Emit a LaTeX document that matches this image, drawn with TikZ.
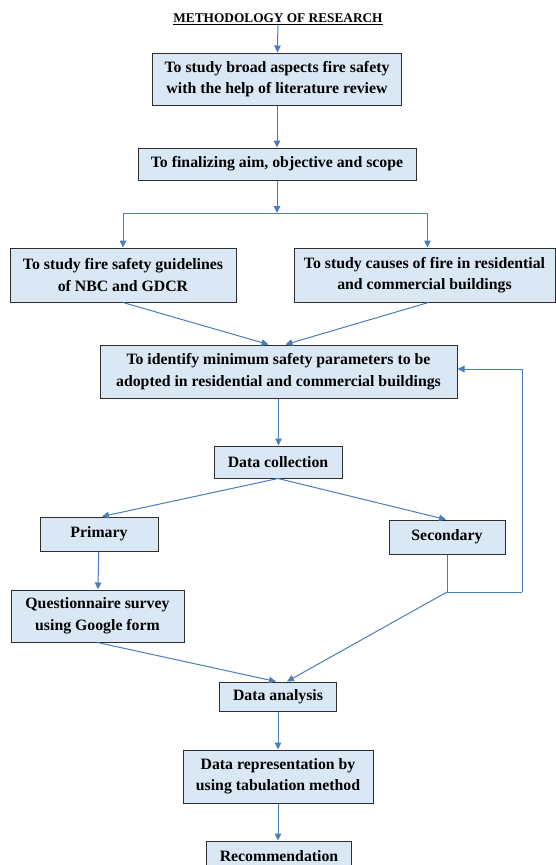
\documentclass[tikz,border=0pt]{standalone}
\usepackage{fontspec}
\setmainfont{Liberation Serif}
\usepackage{tikz}
\usetikzlibrary{arrows.meta}
\definecolor{arrowblue}{RGB}{74,126,187}
\definecolor{boxfill}{RGB}{218,232,246}
\definecolor{boxline}{RGB}{45,45,45}

\begin{document}
\begin{tikzpicture}[x=1pt,y=1pt,yscale=-1,xscale=1,
    box/.style={draw=boxline,line width=1pt,fill=boxfill,align=center,inner sep=0pt,
        font=\fontsize{15.8}{21.5}\selectfont\bfseries},
    arr/.style={draw=arrowblue,line width=1pt,-{Triangle[length=7pt,width=6.5pt]}},
    ln/.style={draw=arrowblue,line width=1pt}]
    \useasboundingbox (0,0) rectangle (555,865);

    % Text Node
    \draw (278,19) node [inner sep=0.75pt,font=\fontsize{13.3}{15}\selectfont\bfseries] (title) {\underline{METHODOLOGY OF RESEARCH}};
    %Shape: Rectangle
    \draw (277,79) node [box,minimum width=249,minimum height=52] (study) {To study broad aspects fire safety\\with the help of literature review};
    %Shape: Rectangle
    \draw (277,164) node [box,minimum width=278,minimum height=32] (aim) {To finalizing aim, objective and scope};
    %Shape: Rectangle
    \draw (123,275) node [box,minimum width=226,minimum height=54] (guide) {To study fire safety guidelines\\of NBC and GDCR};
    %Shape: Rectangle
    \draw (424.5,275) node [box,minimum width=261,minimum height=54] (causes) {To study causes of fire in residential\\and commercial buildings};
    %Shape: Rectangle
    \draw (278.5,371.5) node [box,minimum width=357,minimum height=53] (param) {To identify minimum safety parameters to be\\adopted in residential and commercial buildings};
    %Shape: Rectangle
    \draw (278,462) node [box,minimum width=128,minimum height=32] (collect) {Data collection};
    %Shape: Rectangle
    \draw (99,534) node [box,minimum width=118,minimum height=34] (primary) {Primary};
    %Shape: Rectangle
    \draw (447,537) node [box,minimum width=116,minimum height=34] (secondary) {Secondary};
    %Shape: Rectangle
    \draw (97.5,616) node [box,minimum width=173,minimum height=52] (survey) {Questionnaire survey\\using Google form};
    %Shape: Rectangle
    \draw (278,696.5) node [box,minimum width=117,minimum height=29] (analysis) {Data analysis};
    %Shape: Rectangle
    \draw (278,776.5) node [box,minimum width=190,minimum height=53] (represent) {Data representation by\\using tabulation method};
    %Shape: Rectangle
    \draw (279,856) node [box,minimum width=145,minimum height=30] (recommend) {Recommendation};

    % split points
    \coordinate (split) at (aim.south |- 0,213);
    \coordinate (junc) at (secondary.south |- 0,592);
    \coordinate (loop) at (522,592);

    %Straight Lines
    \draw [arr] (title) -- (study);
    \draw [arr] (study) -- (aim);
    \draw [arr] (aim) -- (split);
    \draw [arr] (split) -| (guide.north);
    \draw [arr] (split) -| ([xshift=3pt]causes.north);
    \draw [arr] (guide.south) -- ([xshift=-10pt]param.north);
    \draw [arr] ([xshift=4pt]causes.south) -- ([xshift=7pt]param.north);
    \draw [arr] (param.south) -- (param.south |- collect.north);
    \draw [arr] (collect.south) -- ([xshift=3pt]primary.north);
    \draw [arr] (collect.south) -- ([xshift=-1pt]secondary.north);
    \draw [arr] (primary) -- (survey);
    %feedback loop
    \draw [ln] (secondary.south) -- (junc) -- (loop);
    \draw [arr] (loop) |- ([yshift=-2.5pt]param.east);
    \draw [arr] (junc) -- ([xshift=9pt]analysis.north);
    \draw [arr] (survey.south) -- ([xshift=-2pt]analysis.north);
    \draw [arr] (analysis) -- (represent);
    \draw [arr] (represent) -- (recommend.north -| represent.south);

\end{tikzpicture}
\end{document}
